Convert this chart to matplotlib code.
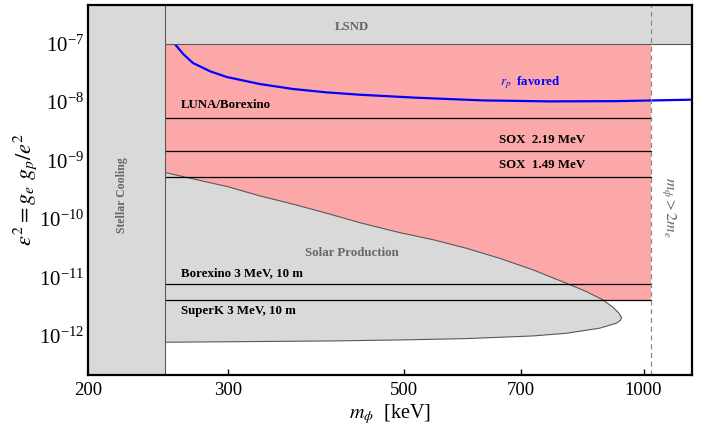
import numpy as np
from matplotlib import pyplot as plt
from matplotlib.ticker import FixedLocator, NullLocator, FixedFormatter

plt.rcParams['font.family'] = ['Liberation Serif', 'DejaVu Serif']
plt.rcParams['mathtext.fontset'] = 'stix'

# limits of the window
m_min, m_max = 200, 1150
eps_min, eps_max = 2.15e-13, 4.6e-7

m_star = 250.0      # stellar cooling edge [keV]
m_2me = 1022.0      # m_phi = 2 m_e
eps_lsnd = 1.0e-7   # LSND bound

# horizontal limits (epsilon^2)
limit_names = ['LUNA/Borexino', 'SOX  2.19 MeV', 'SOX  1.49 MeV',
               'Borexino 3 MeV, 10 m', 'SuperK 3 MeV, 10 m']
limit_vals = [5.4e-9, 1.47e-9, 5.3e-10, 7.8e-12, 4.1e-12]

# solar production region outline (upper branch then lower branch)
solar_m = [250, 271, 299, 329, 362, 399, 439, 493, 543, 598, 659, 726, 799,
           847, 889, 915, 931, 938, 935, 924, 880, 799, 726, 598, 493, 402, 250]
solar_eps = [6.25e-10, 4.87e-10, 3.61e-10, 2.49e-10, 1.80e-10, 1.26e-10,
             8.7e-11, 5.87e-11, 4.44e-11, 3.17e-11, 2.13e-11, 1.35e-11,
             7.99e-12, 5.74e-12, 4.13e-12, 3.10e-12, 2.45e-12, 2.05e-12,
             1.85e-12, 1.65e-12, 1.355e-12, 1.11e-12, 1.0e-12, 9.0e-13,
             8.54e-13, 8.2e-13, 7.8e-13]

# r_p favored curve
rp_m = [250, 257, 263.5, 271, 285, 299, 329, 362, 399, 439, 518, 628, 761,
        924, 1142, 1150]
rp_eps = [1.4e-7, 1.0e-7, 6.67e-8, 4.68e-8, 3.36e-8, 2.69e-8, 2.04e-8,
          1.68e-8, 1.47e-8, 1.34e-8, 1.19e-8, 1.07e-8, 1.03e-8, 1.04e-8,
          1.10e-8, 1.105e-8]

grey = '#d9d9d9'
red = '#fca8a9'
edge = '#595959'
tgrey = '#666666'

fig = plt.figure(figsize=(7.13, 4.30), dpi=100)
ax = fig.add_axes([0.1234, 0.128, 0.847, 0.8605])
ax.set_xscale('log')
ax.set_yscale('log')
ax.set_xlim(m_min, m_max)
ax.set_ylim(eps_min, eps_max)

# excluded/favoured regions
ax.fill_between([m_star, m_2me], [limit_vals[-1]] * 2, [eps_lsnd] * 2,
                color=red, lw=0, zorder=1)
ax.fill(solar_m, solar_eps, facecolor=grey, edgecolor=edge, lw=0.8, zorder=2)

for v in limit_vals:
    ax.plot([m_star, m_2me], [v, v], color='black', lw=0.9, zorder=3)

ax.plot(rp_m, rp_eps, color='#0000ff', lw=1.6, zorder=3)

# LSND and stellar cooling on top
ax.fill_between([m_star, m_max], [eps_lsnd] * 2, [eps_max] * 2,
                facecolor=grey, edgecolor='none', zorder=4)
ax.plot([m_star, m_max], [eps_lsnd] * 2, color=edge, lw=0.8, zorder=4)
ax.fill_between([m_min, m_star], [eps_min] * 2, [eps_max] * 2,
                facecolor=grey, edgecolor='none', zorder=4)
ax.plot([m_star, m_star], [eps_min, eps_max], color=edge, lw=0.8, zorder=4)

ax.axvline(m_2me, color='#888888', ls=(0, (4, 3)), lw=0.9, zorder=5)

# labels on the plot
bold = dict(fontsize=9.3, fontweight='bold', zorder=7)
ax.text(262, 9.0e-9, limit_names[0], va='center', ha='left', **bold)
ax.text(843, 2.21e-9, limit_names[1], va='center', ha='right', **bold)
ax.text(843, 8.4e-10, limit_names[2], va='center', ha='right', **bold)
ax.text(262, 1.2e-11, limit_names[3], va='center', ha='left', **bold)
ax.text(262, 2.65e-12, limit_names[4], va='center', ha='left', **bold)
ax.text(430, 2.67e-11, 'Solar Production', va='center', ha='center',
        color=tgrey, **bold)
ax.text(430, 1.9e-7, 'LSND', va='center', ha='center', color=tgrey, **bold)
ax.text(220.5, 2.6e-10, 'Stellar Cooling', va='center', ha='center',
        rotation=90, color=tgrey, fontsize=8.5, fontweight='bold', zorder=7)
ax.text(721, 2.12e-8, r'$r_p$  favored', va='center', ha='center',
        color='#0000ff', **bold)
ax.text(1073, 1.56e-10, r'$m_\phi > 2m_e$', va='center', ha='center',
        rotation=-90, color=tgrey, fontsize=11.5, zorder=7)

# axes
ax.xaxis.set_major_locator(FixedLocator([200, 300, 500, 700, 1000]))
ax.xaxis.set_major_formatter(FixedFormatter(['200', '300', '500', '700', '1000']))
ax.xaxis.set_minor_locator(NullLocator())
ax.yaxis.set_major_locator(FixedLocator([1e-12, 1e-11, 1e-10, 1e-9, 1e-8, 1e-7]))
ax.yaxis.set_minor_locator(NullLocator())
ax.tick_params(direction='in', length=4, width=1)
ax.tick_params(axis='x', labelsize=13.5, pad=5)
ax.tick_params(axis='y', labelsize=15, pad=3)
for s in ax.spines.values():
    s.set_linewidth(1.6)
    s.set_zorder(6)

ax.set_xlabel(r'$m_\phi$  [keV]', fontsize=14.5, labelpad=2)
ax.set_ylabel(r'$\epsilon^2 = g_e\ g_p/e^2$', fontsize=16, labelpad=0)

fig.savefig('out.png', dpi=100)
